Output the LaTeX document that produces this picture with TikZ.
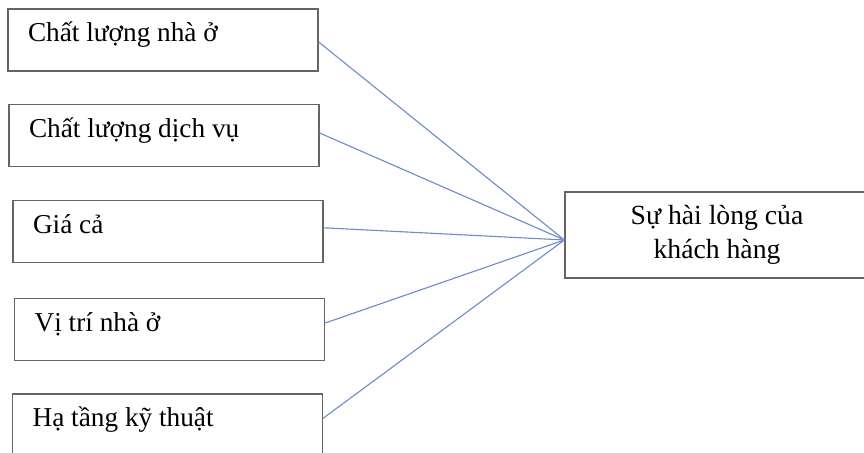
\documentclass[tikz,border=0pt]{standalone}
\usepackage{fontspec}
\setmainfont{Liberation Serif}
\usepackage{tikz}
\usetikzlibrary{positioning}
\definecolor{linkblue}{RGB}{110,140,200}
\definecolor{boxgray}{RGB}{105,100,100}

\begin{document}
\begin{tikzpicture}[
  fac/.style={rectangle,draw=boxgray,line width=0.9pt,
              minimum height=1.55cm,text width=6.75cm,inner xsep=0.5cm,
              align=flush left,text height=0.5cm,text depth=0.4cm,
              font=\fontsize{19.4}{23.4}\selectfont},
  res/.style={rectangle,draw=boxgray,line width=0.9pt,
              minimum width=7.6cm,minimum height=2.15cm,align=flush center,
              font=\fontsize{19.7}{23.8}\selectfont},
  link/.style={draw=linkblue,line width=0.8pt},
]
% page frame (boxes at the edges are cut off)
\clip (0,0) rectangle (21.6,11.325);

% Factors
\node[fac] (b1) at (4.075,10.325) {Chất lượng nhà ở};
\node[fac] (b2) at (4.10, 7.94)   {Chất lượng dịch vụ};
\node[fac] (b3) at (4.20, 5.54)   {Giá cả};
\node[fac] (b4) at (4.24, 3.09)   {Vị trí nhà ở};
\node[fac] (b5) at (4.19, 0.70)   {Hạ tầng kỹ thuật};

% Outcome
\node[res] (sat) at (17.925,5.45) {Sự hài lòng của\\khách hàng};
\coordinate (hub) at ([yshift=-0.125cm]sat.west);

% Links
\foreach \b/\dy in {b1/-0.05,b2/0.06,b3/0.09,b4/0.16,b5/0.17}
  \draw[link] ([yshift=\dy cm]\b.east) -- (hub);
\end{tikzpicture}
\end{document}
